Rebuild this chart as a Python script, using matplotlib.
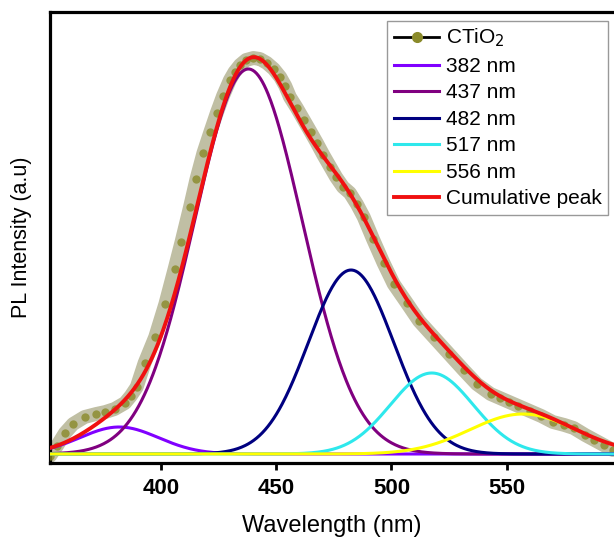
import numpy as np
import matplotlib
matplotlib.use('Agg')
import matplotlib.pyplot as plt
from matplotlib.lines import Line2D

plt.rcParams['font.family'] = ['Liberation Sans', 'DejaVu Sans']

wavelength = [352, 355, 358.5, 362, 367, 372, 376, 380, 384.5, 387, 389.6, 393,
              397.6, 402, 406, 409, 412.7, 415.5, 418.5, 421.5, 424.3, 427, 430,
              432, 434.4, 437, 440.2, 443, 446, 449, 451.8, 454, 456, 459, 462,
              465, 467.7, 470.5, 473.5, 476, 479, 482, 485, 488, 492, 496.6, 501,
              506.7, 512, 518.3, 525, 531.3, 537, 543, 547, 551, 555, 560, 565,
              570, 575, 579, 584, 588, 592, 596]
intensity = [-2, 8, 21, 30, 37, 40, 42, 45, 51, 58, 67, 91,
             117, 150, 185, 212, 247, 275, 301, 322, 341, 358, 374,
             382, 389, 394, 396, 395, 391, 385, 377, 368, 357, 346, 334,
             322, 311, 299, 287, 277, 267, 261, 250, 237, 215, 191, 170,
             151, 133, 117, 100, 84, 70, 60, 56, 52, 48, 43, 38,
             32, 29, 26, 19, 14, 9, 4]

# fitted Gaussian components
peak_labels = ['382 nm', '437 nm', '482 nm', '517 nm', '556 nm']
peak_centers = [382, 438, 482.5, 517.5, 557]
peak_heights = [27, 385, 184, 81, 40]
peak_sigmas = [17, 23.3, 18.5, 18, 23]
peak_colors = ['#8000ff', '#800080', '#000080', '#2ee8ec', '#ffff00']


def gaussian(x, c, a, s):
    return a * np.exp(-(x - c) ** 2 / (2 * s ** 2))


fig = plt.figure(figsize=(6.14, 5.38), dpi=100)
ax = fig.add_axes([50 / 614, 1 - 463 / 538, 1 - 50 / 614, (463 - 12) / 538])

# data: grey halo with olive dots
ax.plot(wavelength, intensity, color='#b9b89a', lw=10, alpha=0.9,
        solid_capstyle='round', zorder=2)
ax.plot(wavelength, intensity, 'o', color='#8a8a2a', ms=6, mew=0, alpha=0.8,
        zorder=3)

xs = np.linspace(352, 597, 600)
total = np.zeros_like(xs)
handles = [Line2D([], [], color='black', lw=2, marker='o', ms=7,
                  mfc='#8a8a2a', mec='#8a8a2a', label=r'CTiO$_2$')]
for lab, c, a, s, col in zip(peak_labels, peak_centers, peak_heights,
                             peak_sigmas, peak_colors):
    ys = gaussian(xs, c, a, s)
    total += ys
    h, = ax.plot(xs, ys, color=col, lw=2.2, label=lab, zorder=4)
    handles.append(h)

h, = ax.plot(xs, total, color='#f01010', lw=2.8, label='Cumulative peak', zorder=5)
handles.append(h)

ax.set_xlim(352, 596.5)
ax.set_ylim(-9, 442)
ax.set_xticks([400, 450, 500, 550])
ax.set_yticks([])
ax.tick_params(axis='x', direction='out', length=5, width=2, pad=6,
               labelsize=16)
for t in ax.get_xticklabels():
    t.set_fontweight('bold')
for side in ['left', 'bottom', 'top']:
    ax.spines[side].set_linewidth(2.3)
ax.spines['right'].set_visible(False)

ax.set_xlabel('Wavelength (nm)', fontsize=17)
ax.xaxis.set_label_coords(0.5, -0.115)
ax.set_ylabel('PL Intensity (a.u)', fontsize=15.5)
ax.yaxis.set_label_coords(-0.032, 0.5)

leg = ax.legend(handles=handles, loc='upper right',
                bbox_to_anchor=(0.989, 0.981), borderaxespad=0,
                fontsize=15, handlelength=2.2, handletextpad=0.3,
                labelspacing=0.36, borderpad=0.3, fancybox=False,
                edgecolor='#999999', framealpha=1)
leg.get_frame().set_linewidth(1)

fig.savefig('out.png', dpi=100)
